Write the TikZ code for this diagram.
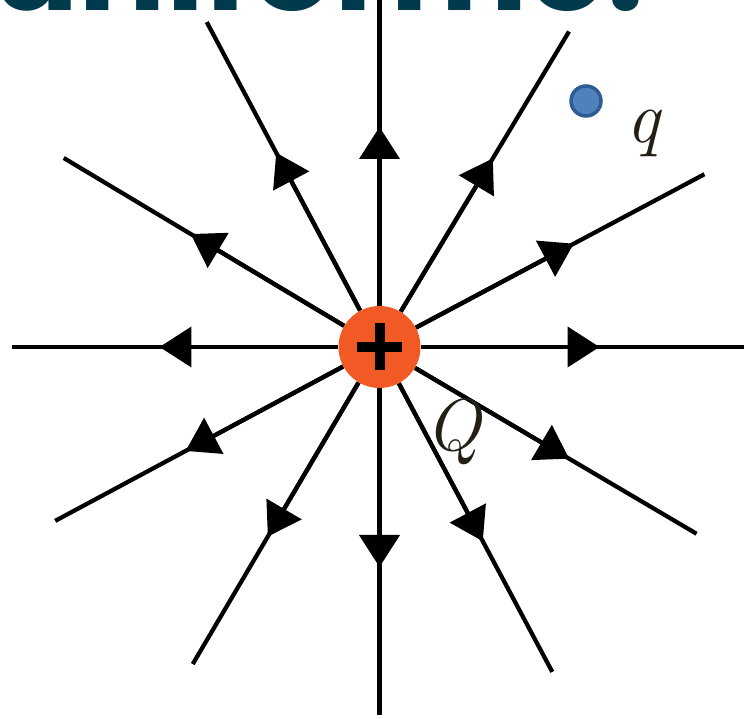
\documentclass[tikz,border=0pt]{standalone}
\usepackage{fontspec}
\newfontfamily\titlefont{Poppins}
\usetikzlibrary{arrows.meta}
\definecolor{chargeorange}{RGB}{241,90,36}
\definecolor{probeblue}{RGB}{79,129,189}
\definecolor{probeedge}{RGB}{47,92,148}
\definecolor{titleteal}{RGB}{1,58,76}
\definecolor{labelink}{RGB}{35,31,20}
\tikzset{
  charge/.style={circle,fill=chargeorange,minimum size=1.64cm,inner sep=0pt,
    path picture={\draw[line width=0.2cm]
      (path picture bounding box.center) ++(-0.45cm,0) -- ++(0.9cm,0)
      (path picture bounding box.center) ++(0,-0.47cm) -- ++(0,0.94cm);}},
  probe/.style={circle,fill=probeblue,draw=probeedge,line width=0.07cm,minimum size=0.6cm,inner sep=0pt},
  fieldline/.style={line width=0.085cm},
  fieldarrow/.style={line width=0.085cm,-{Triangle[length=0.64cm,width=0.8cm]}},
  chargelabel/.style={text=labelink,inner sep=0pt,font=\fontsize{42}{50}\selectfont\itshape}
}

\begin{document}
\begin{tikzpicture}[x=0.02cm,y=0.02cm]
  \useasboundingbox (0,0) rectangle (744,719);
  \clip (0,0) rectangle (744,719);
  \node[anchor=base east,inner sep=0pt,text=titleteal,
    font=\titlefont\bfseries\fontsize{74}{80}\selectfont] (title) at (645,708) {o uniforme.};
  \node[charge] (src) at (379.5,372) {};
  \foreach \a [count=\i] in {90,59,28,0,-30.5,-62,-90,-120.5,-151.8,180,149.1,118}{
    \coordinate (tip\i) at ([shift={(\a:220)}]src.center);
    \coordinate (end\i) at ([shift={(\a:368)}]src.center);
    \draw[fieldline] (src) -- (end\i);
    \draw[fieldarrow] (src) -- (tip\i);
  }
  \node[chargelabel] (Qlab) at (453,287) {Q};
  \node[probe] (test) at (586,618) {};
  \node[chargelabel] (qlab) at (643,586) {q};
\end{tikzpicture}
\end{document}
